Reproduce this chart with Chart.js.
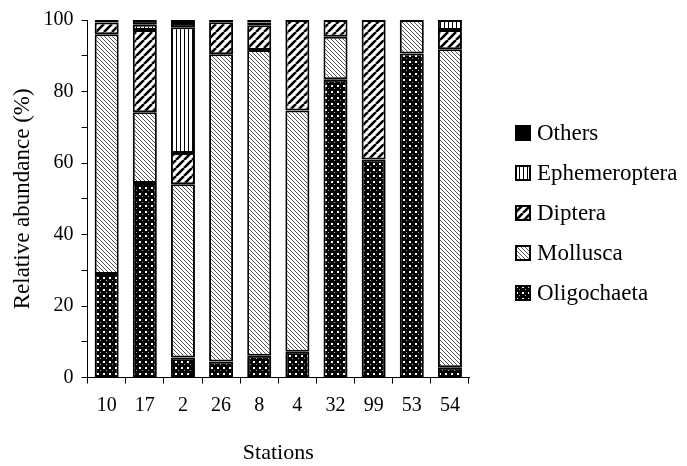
<!DOCTYPE html>
<html>
<head>
<meta charset="utf-8">
<script src="https://cdn.jsdelivr.net/npm/chart.js@4/dist/chart.umd.min.js"></script>
<style>
  html, body { margin: 0; padding: 0; background: #fff; }
  #wrap { position: relative; width: 687px; height: 466px; }
  #legend { position: absolute; left: 515px; top: 113px; font-family: 'Liberation Serif', serif; font-size: 23px; color: #000; }
  .item { display: flex; align-items: center; height: 40px; white-space: nowrap; }
  .item canvas { width: 16px; height: 16px; margin-right: 6px; }
</style>
</head>
<body>
<div id="wrap">
  <canvas id="chart" width="687" height="466"></canvas>
  <div id="legend"></div>
</div>
<script>
const stations = ['10', '17', '2', '26', '8', '4', '32', '99', '53', '54'];
const oligochaeta = [29, 54.4, 5.6, 4.5, 6.1, 7.2, 83.4, 61, 90.6, 2.9];
const mollusca = [67, 19.8, 48.5, 85.9, 85.5, 67.5, 11.9, null, 9.4, 88.9];
const diptera = [3.3, 23, 8.7, 9, 6.9, 25.3, 4.7, 39, null, 5.4];
const ephemeroptera = [null, 1.5, 35.2, null, 0.8, null, null, null, null, 2.8];
const others = [0.7, 1.3, 2, 0.6, 0.7, null, null, null, null, null];
const yTicks = [0, 20, 40, 60, 80, 100];

function tile(size, draw) {
  const c = document.createElement('canvas');
  c.width = size; c.height = size;
  const g = c.getContext('2d');
  draw(g, size);
  return g.createPattern(c, 'repeat');
}

// dark checker with small white dots
const oligoFill = tile(6, (g, s) => {
  g.fillStyle = '#000'; g.fillRect(0, 0, s, s);
  g.fillStyle = '#fff';
  g.fillRect(1, 1, 2, 2);
  g.fillStyle = '#aaa';
  g.fillRect(4, 4, 1, 1);
});
// fine backslash hatching
const molluscaFill = tile(4, (g, s) => {
  g.fillStyle = '#fff'; g.fillRect(0, 0, s, s);
  g.fillStyle = '#555';
  for (let i = 0; i < s; i++) g.fillRect(i, i, 1, 1);
});
// bold forward-slash hatching
const dipteraFill = tile(8, (g, s) => {
  g.fillStyle = '#fff'; g.fillRect(0, 0, s, s);
  g.strokeStyle = '#000'; g.lineWidth = 2.6;
  [-s, 0, s].forEach(o => {
    g.beginPath(); g.moveTo(o, s); g.lineTo(o + s, 0); g.stroke();
  });
});
// vertical lines
const ephemFill = tile(4, (g, s) => {
  g.fillStyle = '#fff'; g.fillRect(0, 0, s, s);
  g.fillStyle = '#000'; g.fillRect(0, 0, 1, s);
});

const ds = (label, data, fill) => ({
  label, data, backgroundColor: fill,
  borderColor: '#000', borderWidth: 2, borderSkipped: false,
  barPercentage: 0.63, categoryPercentage: 1
});

const serif = 'Liberation Serif';

const chart = new Chart(document.getElementById('chart'), {
  type: 'bar',
  data: {
    labels: stations,
    datasets: [
      ds('Oligochaeta', oligochaeta, oligoFill),
      ds('Mollusca', mollusca, molluscaFill),
      ds('Diptera', diptera, dipteraFill),
      ds('Ephemeroptera', ephemeroptera, ephemFill),
      ds('Others', others, '#000')
    ]
  },
  options: {
    responsive: false,
    animation: false,
    layout: { padding: { top: 20, right: 218, bottom: 0, left: 0 } },
    plugins: { legend: { display: false }, tooltip: { enabled: false } },
    scales: {
      x: {
        stacked: true,
        grid: { display: true, drawOnChartArea: false, drawTicks: true, tickLength: 6, color: '#000', offset: true },
        border: { display: true, color: '#000', width: 1 },
        ticks: { color: '#000', font: { family: serif, size: 20 }, padding: 10, maxRotation: 0 },
        title: { display: true, text: 'Stations', color: '#000', font: { family: serif, size: 22 }, padding: { top: 12, bottom: 0 } }
      },
      y: {
        stacked: true,
        min: 0, max: 100,
        grid: { display: true, drawOnChartArea: false, drawTicks: true, tickLength: 6, color: '#000' },
        border: { display: true, color: '#000', width: 1 },
        ticks: {
          stepSize: 10, color: '#000', padding: 8,
          font: { family: serif, size: 20 },
          callback: v => yTicks.includes(v) ? v : ''
        },
        title: { display: true, text: 'Relative abundance (%)', color: '#000', font: { family: serif, size: 23 }, padding: { top: 9, bottom: -1 } }
      }
    }
  }
});

// legend, top to bottom in reverse stacking order
const legend = document.getElementById('legend');
chart.data.datasets.slice().reverse().forEach(d => {
  const row = document.createElement('div');
  row.className = 'item';
  const sw = document.createElement('canvas');
  sw.width = 16; sw.height = 16;
  const g = sw.getContext('2d');
  g.fillStyle = d.backgroundColor;
  g.fillRect(0, 0, 16, 16);
  g.strokeStyle = '#000'; g.lineWidth = 2;
  g.strokeRect(1, 1, 14, 14);
  const txt = document.createElement('span');
  txt.textContent = d.label;
  row.appendChild(sw);
  row.appendChild(txt);
  legend.appendChild(row);
});
</script>
</body>
</html>
